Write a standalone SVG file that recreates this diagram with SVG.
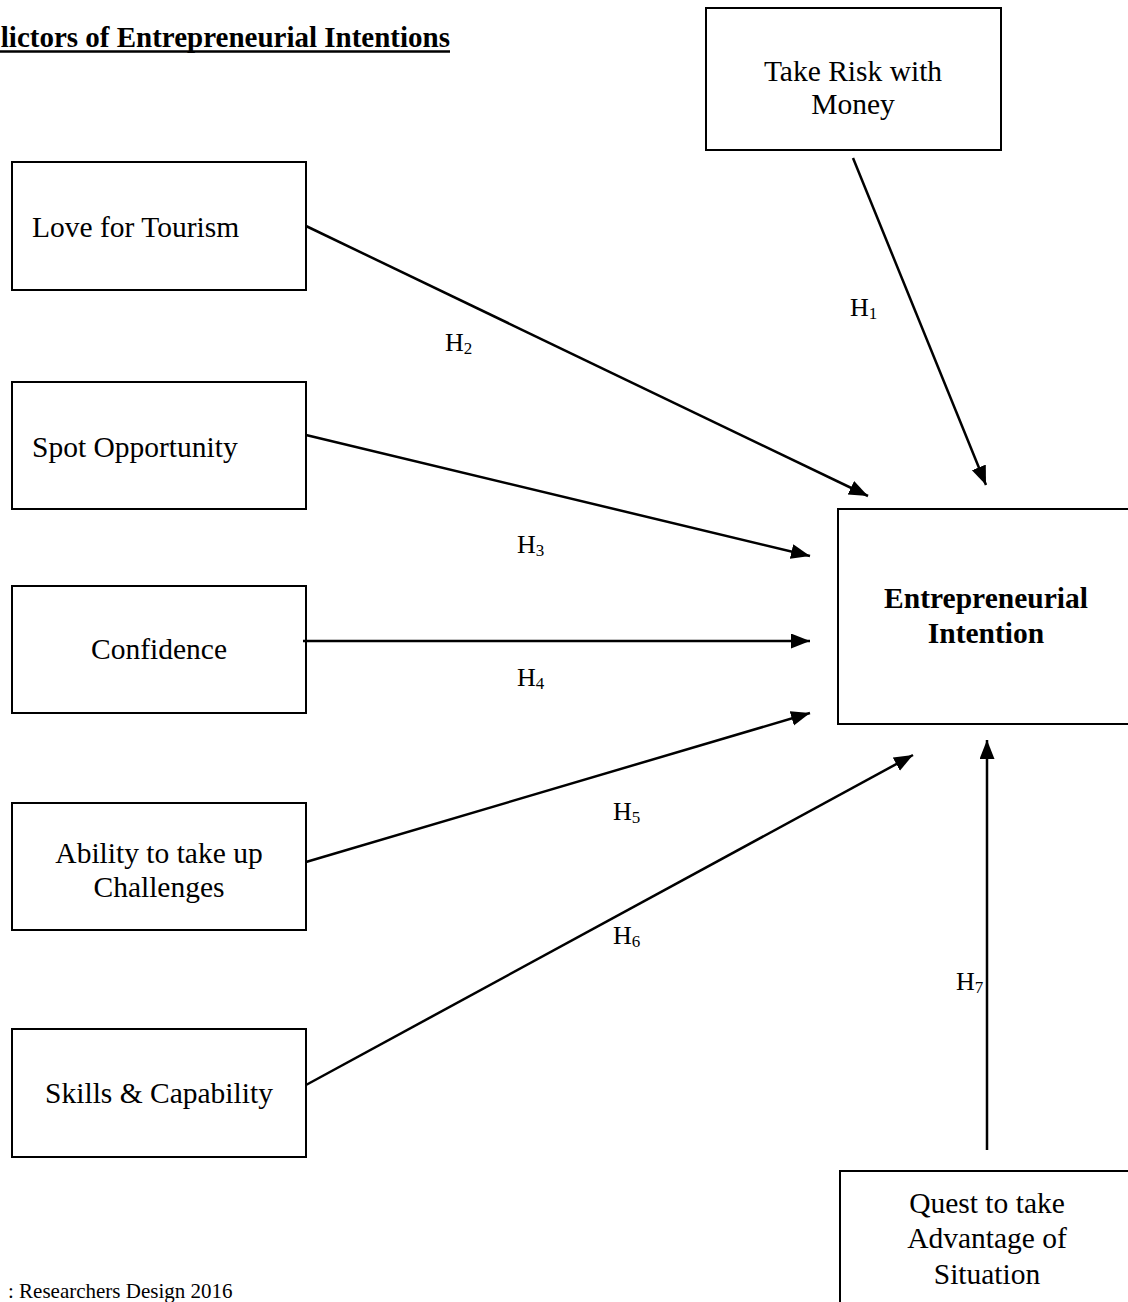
<svg xmlns="http://www.w3.org/2000/svg" width="1128" height="1302" viewBox="0 0 1128 1302">
<style>
.box{fill:#fff;stroke:#000;stroke-width:2}
.t{font-family:"Liberation Serif","Times New Roman",serif;font-size:29.5px;fill:#000}
.c{text-anchor:middle}
.b{font-weight:bold}
.h{font-family:"Liberation Serif","Times New Roman",serif;font-size:26px;fill:#000}
.sub{font-size:17px}
.conn line{stroke:#000;stroke-width:2.5;marker-end:url(#ah)}
</style>
<defs>
<marker id="ah" markerUnits="userSpaceOnUse" markerWidth="20" markerHeight="16" refX="19" refY="7.5" orient="auto">
<path d="M0,0 L19,7.5 L0,15 z" fill="#000"/>
</marker>
</defs>
<rect width="1128" height="1302" fill="#fff"/>
<text class="t b" x="450" y="47" text-anchor="end" style="font-size:29px">lictors of Entrepreneurial Intentions</text>
<line x1="0" y1="51.5" x2="450" y2="51.5" stroke="#000" stroke-width="2.5"/>

<g id="take-risk"><rect class="box" x="706" y="8" width="295" height="142"/>
<text class="t c" x="853" y="81">Take Risk with</text><text class="t c" x="853" y="114">Money</text></g>
<g id="love-tourism"><rect class="box" x="12" y="162" width="294" height="128"/>
<text class="t" x="32" y="237">Love for Tourism</text></g>
<g id="spot-opportunity"><rect class="box" x="12" y="382" width="294" height="127"/>
<text class="t" x="32" y="457">Spot Opportunity</text></g>
<g id="confidence"><rect class="box" x="12" y="586" width="294" height="127"/>
<text class="t c" x="159" y="659">Confidence</text></g>
<g id="ability"><rect class="box" x="12" y="803" width="294" height="127"/>
<text class="t c" x="159" y="863">Ability to take up</text><text class="t c" x="159" y="897">Challenges</text></g>
<g id="skills"><rect class="box" x="12" y="1029" width="294" height="128"/>
<text class="t c" x="159" y="1103">Skills &amp; Capability</text></g>
<g id="entrepreneurial-intention"><rect class="box" x="838" y="509" width="310" height="215"/>
<text class="t c b" x="986" y="608">Entrepreneurial</text><text class="t c b" x="986" y="643">Intention</text></g>
<g id="quest"><rect class="box" x="840" y="1171" width="310" height="150"/>
<text class="t c" x="987" y="1213">Quest to take</text><text class="t c" x="987" y="1248">Advantage of</text><text class="t c" x="987" y="1284">Situation</text></g>

<g class="conn" id="connectors">
<line x1="853" y1="158" x2="986" y2="485"/>
<line x1="306" y1="226" x2="868" y2="496"/>
<line x1="306" y1="435" x2="810" y2="556"/>
<line x1="303" y1="641" x2="810" y2="641"/>
<line x1="306" y1="862" x2="810" y2="713"/>
<line x1="306" y1="1085" x2="913" y2="755"/>
<line x1="987" y1="1150" x2="987" y2="740"/>
</g>
<g id="labels">
<text class="h" x="850" y="316">H<tspan class="sub" dy="3">1</tspan></text>
<text class="h" x="445" y="351">H<tspan class="sub" dy="3">2</tspan></text>
<text class="h" x="517" y="553">H<tspan class="sub" dy="3">3</tspan></text>
<text class="h" x="517" y="686">H<tspan class="sub" dy="3">4</tspan></text>
<text class="h" x="613" y="820">H<tspan class="sub" dy="3">5</tspan></text>
<text class="h" x="613" y="944">H<tspan class="sub" dy="3">6</tspan></text>
<text class="h" x="956" y="990">H<tspan class="sub" dy="3">7</tspan></text>
</g>
<text class="t" x="8" y="1298" style="font-size:21px">:  Researchers Design 2016</text>
</svg>
